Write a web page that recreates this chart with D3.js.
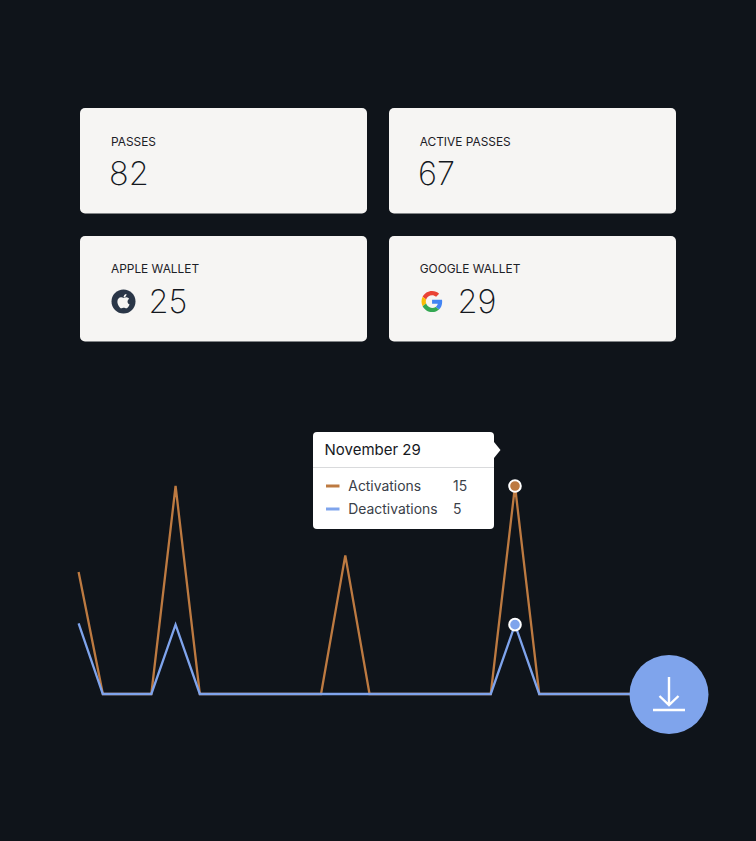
<!DOCTYPE html>
<html><head><meta charset="utf-8">
<script src="https://cdn.jsdelivr.net/npm/d3@7/dist/d3.min.js"></script>
<style>html,body{margin:0;padding:0;background:#0f141a}svg{display:block;font-family:Inter,sans-serif}</style>
</head><body><svg id="c" width="756" height="841"></svg>
<script>
const cardLabels=["PASSES","ACTIVE PASSES","APPLE WALLET","GOOGLE WALLET"];
const cardValues=[82,67,25,29];
const cardIcons=[null,null,"apple","google"];
const activations=[8.8,0,0,0,15,0,0,0,0,0,0,10,0,0,0,0,0,0,15,0,0,0,0,0,0];
const deactivations=[5.1,0,0,0,5,0,0,0,0,0,0,0,0,0,0,0,0,0,5,0,0,0,0,0,0];
const tooltipTitle="November 29";
const seriesNames=["Activations","Deactivations"];
const tooltipValues=[15,5];
const hoverIndex=18;
const colors={Activations:"#bd7a41",Deactivations:"#7fa4ec"};

const svg=d3.select("#c");
svg.append("rect").attr("width",756).attr("height",841).attr("fill","#0f141a");

const cardCol=d3.scaleOrdinal().domain([0,1]).range([80,389]);
const cardRow=d3.scaleOrdinal().domain([0,1]).range([108,236]);
const cards=svg.selectAll("g.card").data(cardLabels).join("g").attr("class","card")
  .attr("transform",(d,i)=>`translate(${cardCol(i%2)},${cardRow(Math.floor(i/2))})`);
cards.append("rect").attr("width",287).attr("height",105.5).attr("rx",5).attr("fill","#f6f5f3");
cards.append("text").attr("x",(d,i)=>i%2?30.7:31).attr("y",(d,i)=>i<2?37.5:37).attr("font-size",11.9).attr("font-weight",400)
  .attr("fill","#1c2026").text(d=>d);
cards.append("text").attr("x",(d,i)=>cardIcons[i]?68.5:29).attr("y",(d,i)=>i<2?77:76.5)
  .attr("font-size",32.5).attr("font-weight",250).attr("fill","#14181e")
  .text((d,i)=>cardValues[i]);

const apple=cards.filter((d,i)=>cardIcons[i]==="apple").append("g").attr("transform","translate(43.5,65.5)");
apple.append("circle").attr("r",12).attr("fill","#2a3647");
apple.append("path").attr("fill","#f6f5f3").attr("transform","translate(-9.6,-10) scale(0.8)")
  .attr("d","M17.05 20.28c-.98.95-2.05.8-3.08.35-1.09-.46-2.09-.48-3.24 0-1.44.62-2.2.44-3.06-.35C2.79 15.25 3.51 7.59 9.05 7.31c1.35.07 2.29.74 3.08.8 1.18-.24 2.31-.93 3.57-.84 1.51.12 2.65.72 3.4 1.8-3.12 1.87-2.38 5.98.48 7.13-.57 1.5-1.31 2.99-2.54 4.09zM12.03 7.25c-.15-2.23 1.66-4.07 3.74-4.25.29 2.58-2.34 4.5-3.74 4.25z");

const g=cards.filter((d,i)=>cardIcons[i]==="google").append("g").attr("transform","translate(32.5,55) scale(0.44)");
[["#EA4335","M24 9.5c3.54 0 6.71 1.22 9.21 3.6l6.85-6.85C35.9 2.38 30.47 0 24 0 14.62 0 6.51 5.38 2.56 13.22l7.98 6.19C12.43 13.72 17.74 9.5 24 9.5z"],
 ["#4285F4","M46.98 24.55c0-1.57-.15-3.09-.38-4.55H24v9.02h12.94c-.58 2.96-2.26 5.48-4.78 7.18l7.73 6c4.51-4.18 7.09-10.36 7.09-17.65z"],
 ["#FBBC05","M10.53 28.59c-.48-1.45-.76-2.99-.76-4.59s.27-3.14.76-4.59l-7.98-6.19C.92 16.46 0 20.12 0 24c0 3.88.92 7.54 2.56 10.78l7.97-6.19z"],
 ["#34A853","M24 48c6.48 0 11.93-2.13 15.89-5.81l-7.73-6c-2.15 1.45-4.92 2.3-8.16 2.3-6.26 0-11.57-4.22-13.47-9.91l-7.98 6.19C6.51 42.62 14.62 48 24 48z"]]
 .forEach(p=>g.append("path").attr("fill",p[0]).attr("d",p[1]));

const x=d3.scaleLinear().domain([0,18]).range([78.6,515]);
const y=d3.scaleLinear().domain([0,15]).range([694,486]);
const line=d3.line().x((d,i)=>x(i)).y(d=>y(d));
seriesNames.forEach((n,k)=>{
  svg.append("path").datum(k?deactivations:activations).attr("d",line)
    .attr("fill","none").attr("stroke",colors[n]).attr("stroke-width",2.3);
});
seriesNames.forEach((n,k)=>{
  svg.append("circle").attr("cx",x(hoverIndex)).attr("cy",y((k?deactivations:activations)[hoverIndex]))
    .attr("r",5.8).attr("fill",colors[n]).attr("stroke","#fff").attr("stroke-width",2);
});

const dl=svg.append("g").attr("transform","translate(669,694.5)");
dl.append("circle").attr("r",39.5).attr("fill","#7fa4ec");
dl.append("path").attr("fill","none").attr("stroke","#fff").attr("stroke-width",2.4)
  .attr("d","M0,-17.5V10.5M-9.5,1.5L0,10.5L9.5,1.5M-16,15.5H16");

const tip=svg.append("g").attr("transform","translate(313,432)");
tip.append("path").attr("fill","#fff").attr("d","M181,10L187.5,18L181,26Z");
tip.append("rect").attr("width",181).attr("height",97).attr("rx",4).attr("fill","#fff");
tip.append("line").attr("x1",0).attr("x2",181).attr("y1",35.5).attr("y2",35.5).attr("stroke","#d9dadc");
tip.append("text").attr("x",11.5).attr("y",23).attr("font-size",15).attr("font-weight",400).attr("fill","#16191e").text(tooltipTitle);
const rows=tip.selectAll("g.row").data(seriesNames).join("g").attr("class","row")
  .attr("transform",(d,i)=>`translate(0,${54+i*23})`);
rows.append("line").attr("x1",13).attr("x2",26.5).attr("stroke",d=>colors[d]).attr("stroke-width",3);
rows.append("text").attr("x",35.3).attr("y",5).attr("font-size",13.9).attr("fill","#3a4048").text(d=>d);
rows.append("text").attr("x",140).attr("y",5).attr("font-size",13.9).attr("fill","#3a4048")
  .text((d,i)=>tooltipValues[i]);
</script></body></html>
